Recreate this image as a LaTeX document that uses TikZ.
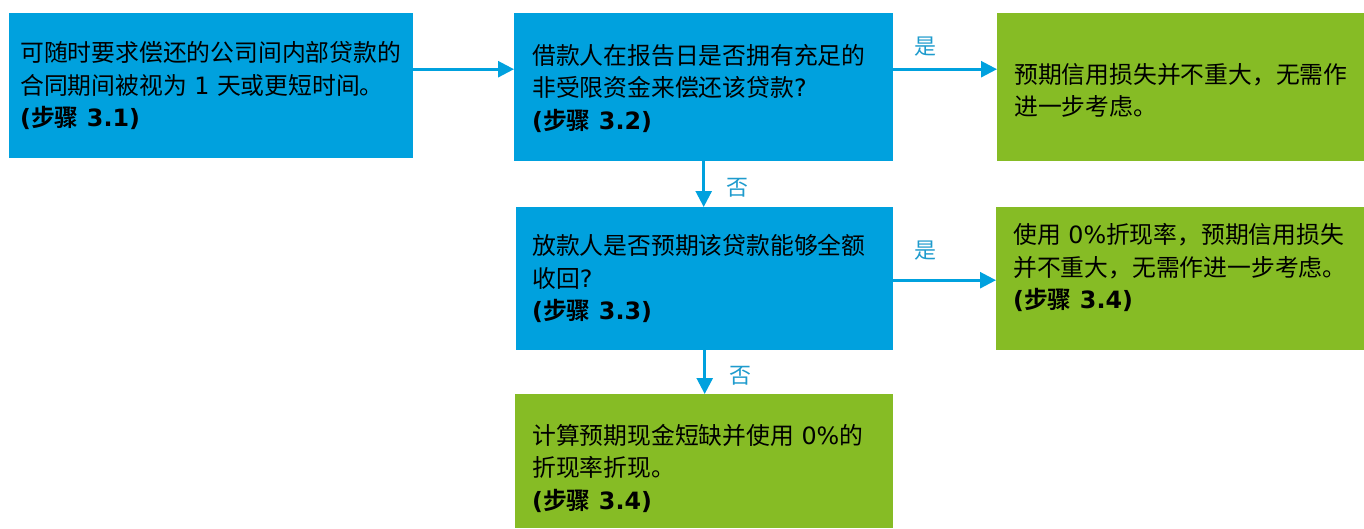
\documentclass[tikz,border=0pt]{standalone}
\usepackage{fontspec}
\setmainfont{DejaVu Sans}
\newfontfamily\zhfont{Noto Sans CJK SC}[BoldFont={* Bold}]
\newcommand\zh[1]{{\zhfont #1}}
\usetikzlibrary{arrows.meta}
\definecolor{dblue}{RGB}{0,161,222}
\definecolor{dgreen}{RGB}{134,188,37}
\definecolor{ablue}{RGB}{0,161,222}
\definecolor{lblue}{RGB}{30,155,205}
\begin{document}
\begin{tikzpicture}[x=1pt,y=-1pt,
  bluebox/.style={draw=none,fill=dblue,anchor=north west,inner sep=0pt},
  greenbox/.style={draw=none,fill=dgreen,anchor=north west,inner sep=0pt},
  txt/.style={anchor=west,align=left,inner sep=0pt,font=\fontsize{23.8}{32.5}\selectfont,text=black},
  arr/.style={draw=ablue,line width=2.6pt,-{Triangle[length=16pt,width=16pt]}},
  lab/.style={text=lblue,inner sep=0pt,font=\fontsize{22}{24}\selectfont\zhfont}]
\useasboundingbox (0,0) rectangle (1364,528);
% boxes
\node[bluebox,minimum width=404pt,minimum height=145pt] (A) at (9,13) {};
\node[bluebox,minimum width=379pt,minimum height=148pt] (B) at (514,13) {};
\node[greenbox,minimum width=367pt,minimum height=148pt] (C) at (997,13) {};
\node[bluebox,minimum width=377pt,minimum height=143pt] (D) at (516,207) {};
\node[greenbox,minimum width=368pt,minimum height=143pt] (E) at (996,207) {};
\node[greenbox,minimum width=378pt,minimum height=134pt] (F) at (515,394) {};
% texts
\node[txt] (tA) at ([xshift=11pt]A.west) {\zh{可随时要求偿还的公司间内部贷款的}\\\zh{合同期间被视为} 1 \zh{天或更短时间。}\\\textbf{(\zh{步骤} 3.1)}};
\node[txt] (tB) at ([xshift=18pt,yshift=-1pt]B.west) {\zh{借款人在报告日是否拥有充足的}\\\zh{非受限资金来偿还该贷款}?\\\textbf{(\zh{步骤} 3.2)}};
\node[txt] (tC) at ([xshift=17pt,yshift=-3pt]C.west) {\zh{预期信用损失并不重大，无需作}\\\zh{进一步考虑。}};
\node[txt] (tD) at ([xshift=16pt]D.west) {\zh{放款人是否预期该贷款能够全额}\\\zh{收回}?\\\textbf{(\zh{步骤} 3.3)}};
\node[txt] (tE) at ([xshift=17pt,yshift=11pt]E.west) {\zh{使用} 0\%\zh{折现率，预期信用损失}\\\zh{并不重大，无需作进一步考虑。}\\\textbf{(\zh{步骤} 3.4)}};
\node[txt] (tF) at ([xshift=17pt,yshift=-7pt]F.west) {\zh{计算预期现金短缺并使用} 0\%\zh{的}\\\zh{折现率折现。}\\\textbf{(\zh{步骤} 3.4)}};
% connectors
\draw[arr] ([yshift=16.5pt]A.east) -- ([yshift=18pt]B.west);
\draw[arr] ([yshift=18pt]B.east) -- ([yshift=18pt]C.west) node[lab,pos=0.31,above=12pt] (l1) {是};
\draw[arr] (B.south) -- (B.south |- D.north) node[lab,midway,right=21pt,yshift=-4pt] (l2) {否};
\draw[arr] ([yshift=-1.5pt]D.east) -- ([yshift=-1.5pt]E.west) node[lab,pos=0.31,above=19pt] (l3) {是};
\draw[arr] (D.south) -- (D.south |- F.north) node[lab,midway,right=23pt,yshift=-4pt] (l4) {否};
\end{tikzpicture}
\end{document}
